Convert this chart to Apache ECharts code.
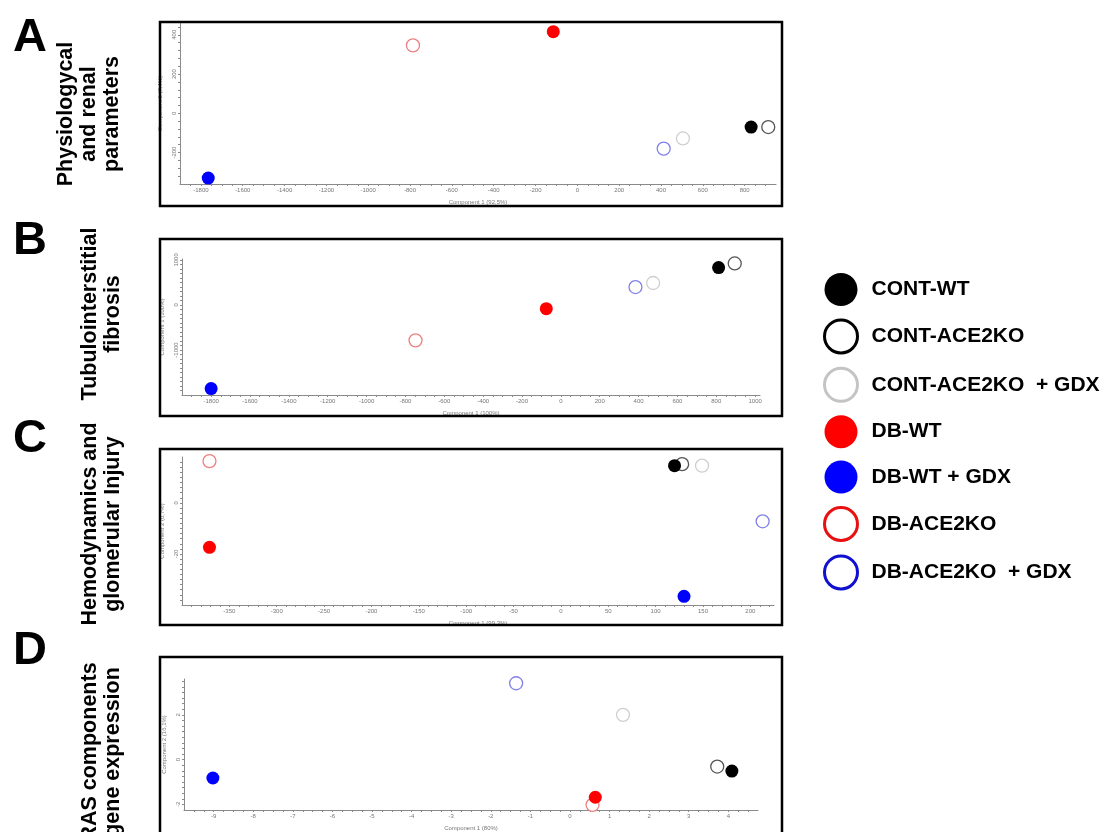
<!DOCTYPE html>
<html>
<head>
<meta charset="utf-8">
<script src="https://cdn.jsdelivr.net/npm/echarts@6/dist/echarts.min.js"></script>
<style>
  html, body { margin: 0; padding: 0; background: #fff; }
  #chart { width: 1108px; height: 832px; }
</style>
</head>
<body>
<div id="chart"></div>
<script>
// groups, same order in every panel
const groups = ['CONT-WT', 'CONT-ACE2KO', 'CONT-ACE2KO  + GDX', 'DB-WT', 'DB-WT + GDX', 'DB-ACE2KO', 'DB-ACE2KO  + GDX']

// A - physiological and renal parameters
const aX = [831, 913, 505, -115, -1765, -786, 413]
const aY = [-70, -70, -128, 416, -330, 346, -180]
// B - tubulointerstitial fibrosis
const bX = [812, 895, 475, -75, -1800, -748, 384]
const bY = [830, 921, 487, -82, -1858, -787, 397]
// C - hemodynamics and glomerular injury
const cX = [120, 128, 149, -371, 130, -371, 213]
const cY = [14.6, 15.2, 14.6, -17.4, -36.6, 16.4, -7.2]
// D - RAS components gene expression
const dX = [4.09, 3.72, 1.34, 0.64, -9.02, 0.57, -1.36]
const dY = [-0.51, -0.31, 2.0, -1.68, -0.82, -2.02, 3.41]

const xNames = ['Component 1 (92,5%)', 'Component 1 (100%)', 'Component 1 (99,3%)', 'Component 1 (80%)']
const yNames = ['Component 2 (7,4%)', 'Component 1 (100%)', 'Component 2 (0,7%)', 'Component 2 (16,1%)']

// marker styles inside the plots
const plotStyle = [
  { color: '#000', opacity: 1 },
  { color: '#fff', borderColor: '#555', borderWidth: 1.3, opacity: 1 },
  { color: '#fff', borderColor: '#cfcfcf', borderWidth: 1.3, opacity: 1 },
  { color: '#ff0000', opacity: 1 },
  { color: '#0000ff', opacity: 1 },
  { color: '#fff', borderColor: '#ec8080', borderWidth: 1.3, opacity: 1 },
  { color: '#fff', borderColor: '#8080e8', borderWidth: 1.3, opacity: 1 }
]
// marker styles in the legend
const legendStyle = [
  { color: '#000', borderWidth: 0, opacity: 1 },
  { color: '#fff', borderColor: '#000', borderWidth: 3, opacity: 1 },
  { color: '#fff', borderColor: '#c4c4c4', borderWidth: 3, opacity: 1 },
  { color: '#ff0000', borderWidth: 0, opacity: 1 },
  { color: '#0000ff', borderWidth: 0, opacity: 1 },
  { color: '#fff', borderColor: '#e81010', borderWidth: 3, opacity: 1 },
  { color: '#fff', borderColor: '#1010d0', borderWidth: 3, opacity: 1 }
]

const panels = [
  { x: aX, y: aY, grid: { left: 180, top: 23, width: 596, height: 161 },
    xa: { min: -1900, max: 950, interval: 50, step: 200 }, ya: { min: -360, max: 460, interval: 40, step: 200 } },
  { x: bX, y: bY, grid: { left: 182, top: 259, width: 578, height: 136 },
    xa: { min: -1950, max: 1025, interval: 50, step: 200 }, ya: { min: -2000, max: 1020, interval: 100, step: 1000 } },
  { x: cX, y: cY, grid: { left: 182, top: 457, width: 592, height: 148 },
    xa: { min: -400, max: 225, interval: 10, step: 50 }, ya: { min: -40, max: 18, interval: 2, step: 20 } },
  { x: dX, y: dY, grid: { left: 184, top: 679, width: 574, height: 134 },
    xa: { min: -9.75, max: 4.75, interval: 0.25, step: 1 }, ya: { min: -2.25, max: 3.6, interval: 0.25, step: 2 } }
]

const axisColor = '#8a8a8a'
const font = 'Liberation Sans, Arial, sans-serif'

function makeAxis (a, name, isY) {
  return {
    type: 'value',
    min: a.min,
    max: a.max,
    interval: a.interval,
    name: name,
    nameLocation: 'middle',
    nameGap: isY ? 13 : 15,
    nameTextStyle: { fontSize: 6, color: '#777', fontFamily: font },
    axisLine: { show: true, onZero: false, lineStyle: { color: axisColor, width: 1 } },
    axisTick: { show: true, length: 2, lineStyle: { color: axisColor } },
    splitLine: { show: false },
    axisLabel: {
      fontSize: 6,
      color: '#777',
      fontFamily: font,
      margin: 3,
      rotate: isY ? 90 : 0,
      showMinLabel: false,
      showMaxLabel: false,
      formatter: function (v) {
        const r = Math.round(v / a.step) * a.step
        return Math.abs(r - v) < 1e-9 ? String(r) : ''
      }
    }
  }
}

const grids = []
const xAxes = []
const yAxes = []
const series = []
panels.forEach(function (p, pi) {
  grids.push(Object.assign({ containLabel: false }, p.grid))
  xAxes.push(Object.assign({ gridIndex: pi }, makeAxis(p.xa, xNames[pi], false)))
  yAxes.push(Object.assign({ gridIndex: pi }, makeAxis(p.ya, yNames[pi], true)))
  groups.forEach(function (g, gi) {
    series.push({
      type: 'scatter',
      name: g,
      xAxisIndex: pi,
      yAxisIndex: pi,
      symbol: 'circle',
      symbolSize: 13,
      z: plotStyle[gi].borderColor ? 2 : 3,
      itemStyle: plotStyle[gi],
      data: [[p.x[gi], p.y[gi]]]
    })
  })
})

const boxes = [
  { x: 160, y: 22, width: 622, height: 184 },
  { x: 160, y: 239, width: 622, height: 177 },
  { x: 160, y: 449, width: 622, height: 176 },
  { x: 160, y: 657, width: 622, height: 200 }
]
const letters = [
  { t: 'A', y: 38 }, { t: 'B', y: 241 }, { t: 'C', y: 439 }, { t: 'D', y: 651 }
]
const titles = [
  { t: 'Physiologycal\nand renal\nparameters', x: 89, y: 114 },
  { t: 'Tubulointerstitial\nfibrosis', x: 102, y: 314 },
  { t: 'Hemodynamics and\nglomerular Injury', x: 102, y: 524 },
  { t: 'RAS components\ngene expression', x: 102, y: 752 }
]

const graphic = []
boxes.forEach(function (b) {
  graphic.push({ type: 'rect', shape: b, style: { fill: 'none', stroke: '#000', lineWidth: 2.5 }, z: 10 })
})
letters.forEach(function (l) {
  graphic.push({ type: 'text', x: 30, y: l.y, style: { text: l.t, fontSize: 47, fontWeight: 'bold', fontFamily: font, fill: '#000', align: 'center', verticalAlign: 'middle' } })
})
titles.forEach(function (t) {
  graphic.push({ type: 'text', x: t.x, y: t.y, rotation: Math.PI / 2, style: { text: t.t, fontSize: 21.5, lineHeight: 23, fontWeight: 'bold', fontFamily: font, fill: '#000', align: 'center', verticalAlign: 'middle' } })
})

const chart = echarts.init(document.getElementById('chart'), null, { renderer: 'canvas' })
chart.setOption({
  animation: false,
  backgroundColor: '#fff',
  grid: grids,
  xAxis: xAxes,
  yAxis: yAxes,
  legend: {
    orient: 'vertical',
    left: 818,
    top: 268,
    itemWidth: 33,
    itemHeight: 33,
    itemGap: 12.4,
    selectedMode: false,
    icon: 'circle',
    textStyle: { fontSize: 21, fontWeight: 'bold', fontFamily: font, color: '#000', padding: [0, 0, 0, 9] },
    data: groups.map(function (g, gi) {
      return { name: g, icon: 'circle', itemStyle: legendStyle[gi] }
    })
  },
  graphic: graphic,
  series: series
})
</script>
</body>
</html>
